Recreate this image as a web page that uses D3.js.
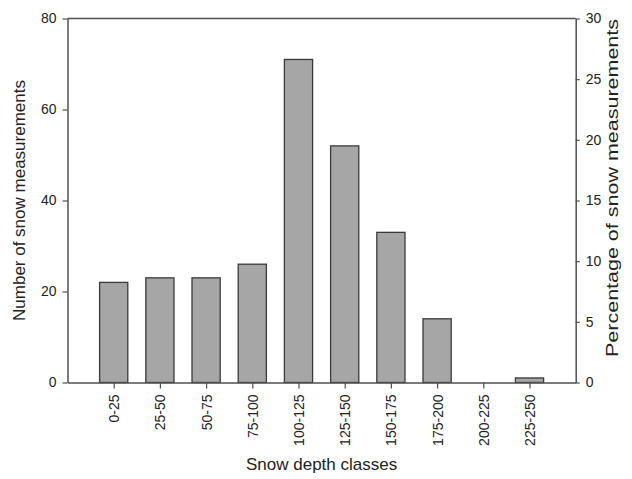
<!DOCTYPE html>
<html>
<head>
<meta charset="utf-8">
<script src="https://cdn.jsdelivr.net/npm/d3@7"></script>
<style>
    html, body { margin: 0; padding: 0; background: #fff; }
    text { font-family: Arial, "Liberation Sans", sans-serif; fill: #222; }
</style>
</head>
<body>
<div id="chart"></div>
<script>
// snow depth classes (cm) and number of measurements in each
const depthClasses = ["0-25", "25-50", "50-75", "75-100", "100-125", "125-150", "150-175", "175-200", "200-225", "225-250"];
const counts = [22, 23, 23, 26, 71, 52, 33, 14, 0, 1];
const countTicks = [0, 20, 40, 60, 80];
const percentTicks = [0, 5, 10, 15, 20, 25, 30];

const width = 632,
    height = 479,
    margin = {top: 18.5, right: 56.3, bottom: 96.5, left: 67.5},
    plotW = width - margin.left - margin.right,
    plotH = height - margin.top - margin.bottom,
    axisColour = "#505050";

const svg = d3.select("#chart").append("svg")
    .attr("width", width)
    .attr("height", height);

const g = svg.append("g")
    .attr("transform", "translate(" + margin.left + "," + margin.top + ")");

let x = d3.scalePoint()
    .domain(depthClasses)
    .range([0, plotW])
    .padding(1);
let yCount = d3.scaleLinear()
    .domain([0, 80])
    .range([plotH, 0]);
let yPercent = d3.scaleLinear()
    .domain([0, 30])
    .range([plotH, 0]);

const barW = x.step() * 0.61;

// bars
g.append("g")
    .selectAll("rect")
    .data(counts)
    .enter()
    .append("rect")
    .attr("x", (d, i) => x(depthClasses[i]) - barW / 2)
    .attr("y", d => yCount(d))
    .attr("width", barW)
    .attr("height", d => plotH - yCount(d))
    .attr("fill", "#a6a6a6")
    .attr("stroke", "#3a3a3a")
    .attr("stroke-width", 1.3);

// frame top
g.append("line")
    .attr("x1", 0).attr("x2", plotW)
    .attr("y1", 0).attr("y2", 0)
    .attr("stroke", axisColour)
    .attr("stroke-width", 1.5);

function styleAxis(sel) {
    sel.selectAll(".domain").attr("stroke", axisColour).attr("stroke-width", 1.5);
    sel.selectAll(".tick line").attr("stroke", axisColour).attr("stroke-width", 1.2);
    sel.selectAll(".tick text")
        .attr("fill", "#222")
        .style("font-family", "Arial, 'Liberation Sans', sans-serif")
        .style("font-size", "14px");
}

g.append("g")
    .call(d3.axisLeft(yCount).tickValues(countTicks).tickSize(5).tickPadding(6).tickSizeOuter(0))
    .call(styleAxis);

g.append("g")
    .attr("transform", "translate(" + plotW + ",0)")
    .call(d3.axisRight(yPercent).tickValues(percentTicks).tickSize(4).tickPadding(6).tickSizeOuter(0))
    .call(styleAxis);

const xAxisG = g.append("g")
    .attr("transform", "translate(0," + plotH + ")")
    .call(d3.axisBottom(x).tickSize(6).tickSizeOuter(0))
    .call(styleAxis);

xAxisG.selectAll(".tick text")
    .attr("transform", "rotate(-90)")
    .attr("x", -12)
    .attr("y", 0)
    .attr("dy", "0.35em")
    .style("text-anchor", "end");

// axis titles
svg.append("text")
    .attr("x", margin.left + plotW / 2)
    .attr("y", 470)
    .style("text-anchor", "middle")
    .style("font-size", "17px")
    .text("Snow depth classes");

svg.append("text")
    .attr("transform", "rotate(-90)")
    .attr("x", -(margin.top + plotH / 2))
    .attr("y", 25)
    .style("text-anchor", "middle")
    .style("font-size", "17px")
    .text("Number of snow measurements");

// the right-hand title is drawn longer in the original figure
svg.append("text")
    .attr("transform", "rotate(-90)")
    .attr("x", -188)
    .attr("y", 618)
    .attr("textLength", 338)
    .attr("lengthAdjust", "spacingAndGlyphs")
    .style("text-anchor", "middle")
    .style("font-size", "17px")
    .text("Percentage of snow measurements");
</script>
</body>
</html>
